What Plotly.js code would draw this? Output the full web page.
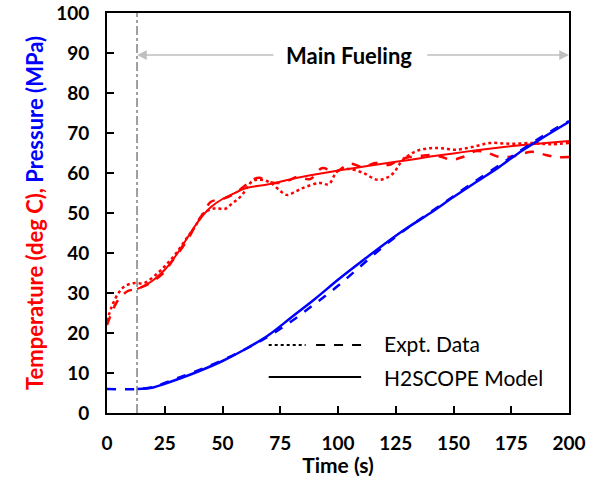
<!DOCTYPE html>
<html><head><meta charset="utf-8">
<script src="https://cdn.plot.ly/plotly-3.0.1.min.js"></script>
<style>html,body{margin:0;padding:0;background:#fff}</style>
</head><body>
<div id="chart" style="width:605px;height:477px"></div>
<script>
// Temperature – model (solid red)
const tModelX = [13,16,20,25,30,35,40,45,50,55,60,70,80,90,100,110,120,130,140,150,160,170,180,190,200];
const tModelY = [31,31.8,33.2,35.8,39.5,44,48.3,51.5,53.5,54.9,56.2,57.2,58.5,59.6,60.6,61.5,62.4,63.2,64.1,64.9,65.7,66.4,67,67.5,68];
// Temperature – expt (dashed red)
const tDashX = [0,2,4,6,9,13,16,20,25,28,34,38,42,45,50,55,59,63,66,70,75,79,82,88,93,99,105,111,116,122,126,131,136,140,145,149,154,160,165,170,176,184,190,195,200];
const tDashY = [22,25,27.5,29,30.5,31,31.7,33,35.3,37.8,42.5,46.5,50.3,52.8,53.5,54.8,56.5,58.3,58.8,57.8,57.5,58.2,59,58.5,61.2,60.3,62.3,61.5,62.5,62,63.2,64,64.3,64.5,64,63.3,64,65.5,65,64,64.2,65.3,64.5,64,64];
// Temperature – expt (dotted red)
const tDotX = [0,2,5,8,12,16,22,26,30,34,38,42,47,51,54,58,63,67,71,75,78,82,85,92,96,99,101,105,111,117,121,124,128,134,140,145,151,158,166,175,184,192,200];
const tDotY = [23,26.5,30,31.8,32.5,32.5,35,37.3,40,43.3,46.5,50,51.2,51,52.3,54.2,58,58.3,57.5,55.5,54.5,55.5,56.3,57.5,57.2,60,61,61,60,58.3,58.8,60,63.2,65.5,66.2,66.2,65.8,66.5,67.5,67.3,67.5,67.2,67.5];
// Pressure – model (solid blue)
const pModelX = [13,20,25,30,40,50,60,70,80,90,100,110,120,130,140,150,160,170,180,190,200];
const pModelY = [6,6.4,7.3,8.3,10.5,13,16,19.5,24,28.5,33.3,37.8,42.2,46.3,50,54,57.8,61.6,65.7,69.3,72.8];
// Pressure – expt (dashed blue)
const pDashX = [0,13,20,25,30,40,50,60,70,80,90,100,110,120,130,140,150,160,170,180,190,200];
const pDashY = [6,6,6.5,7.5,8.6,10.8,13.2,16,19.2,23,27.3,31.8,36.8,41.8,46.2,50.2,54.2,58.2,62,66,69.7,73];

const xTicks = [0,25,50,75,100,125,150,175,200];
const yTicks = [0,10,20,30,40,50,60,70,80,90,100];
const fuelStart = 13;
const fuelEnd = 200;

const RED = '#ff0000', BLUE = '#0000ff';
const traces = [
  {x:tDotX, y:tDotY, mode:'lines', line:{color:RED, width:2.5, dash:'dot', shape:'spline'}},
  {x:tDashX, y:tDashY, mode:'lines', line:{color:RED, width:2.5, dash:'dash', shape:'spline'}},
  {x:tModelX, y:tModelY, mode:'lines', line:{color:RED, width:2, shape:'spline'}},
  {x:pDashX, y:pDashY, mode:'lines', line:{color:BLUE, width:2.5, dash:'dash', shape:'spline'}},
  {x:pModelX, y:pModelY, mode:'lines', line:{color:BLUE, width:2.5, shape:'spline'}}
];

const F = 'Lato, "Open Sans", sans-serif';
const layout = {
  width:605, height:477,
  margin:{l:107, r:36, t:13, b:64},
  showlegend:false,
  plot_bgcolor:'#fff', paper_bgcolor:'#fff',
  font:{family:F, color:'#000'},
  xaxis:{range:[0,200], tickvals:xTicks, ticktext:xTicks.map(String),
    ticks:'inside', ticklen:7, tickwidth:2, tickcolor:'#000',
    showline:true, linewidth:2, linecolor:'#000', mirror:true,
    showgrid:false, zeroline:false, ticklabelstandoff:12,
    tickfont:{size:19, family:F, weight:'bold'},
    title:{text:'<b>Time (s)</b>', font:{size:21, family:F}, standoff:0}},
  yaxis:{range:[0,100], tickvals:yTicks, ticktext:yTicks.map(String),
    ticks:'inside', ticklen:7, tickwidth:2, tickcolor:'#000',
    showline:true, linewidth:2, linecolor:'#000', mirror:true,
    showgrid:false, zeroline:false, ticklabelstandoff:12,
    tickfont:{size:19, family:F, weight:'bold'},
    title:{text:'<b><span style="color:#ff0000">Temperature (deg C), </span><span style="color:#0000ff">Pressure (MPa)</span></b>', font:{size:22, family:F}, standoff:6}},
  shapes:[
    {type:'line', xref:'x', yref:'y', x0:fuelStart, x1:fuelStart, y0:0, y1:100, line:{color:'#808080', width:1.5, dash:'dashdot'}},
    {type:'line', xref:'x', yref:'y', x0:70, x1:86, y0:17, y1:17, line:{color:'#000', width:2, dash:'dot'}},
    {type:'line', xref:'x', yref:'y', x0:90.5, x1:110, y0:17, y1:17, line:{color:'#000', width:2, dash:'dash'}},
    {type:'line', xref:'x', yref:'y', x0:70, x1:110, y0:9, y1:9, line:{color:'#000', width:2}}
  ],
  annotations:[
    {x:104.8, y:89.5, xref:'x', yref:'y', text:'<b>Main Fueling</b>', showarrow:false, font:{size:22, family:F, color:'#000'}},
    {x:fuelStart, y:89.5, ax:72.7, ay:89.5, xref:'x', yref:'y', axref:'x', ayref:'y', text:'', showarrow:true, arrowhead:2, arrowsize:1.3, arrowwidth:1.5, arrowcolor:'#bfbfbf'},
    {x:fuelEnd, y:89.5, ax:138, ay:89.5, xref:'x', yref:'y', axref:'x', ayref:'y', text:'', showarrow:true, arrowhead:2, arrowsize:1.3, arrowwidth:1.5, arrowcolor:'#bfbfbf'},
    {x:119, y:17.3, xref:'x', yref:'y', xanchor:'left', text:'Expt. Data', showarrow:false, font:{size:21, family:F, color:'#000'}},
    {x:119, y:9, xref:'x', yref:'y', xanchor:'left', text:'H2SCOPE Model', showarrow:false, font:{size:21, family:F, color:'#000'}}
  ]
};
Plotly.newPlot('chart', traces, layout, {displayModeBar:false, staticPlot:true});
</script>
</body></html>
